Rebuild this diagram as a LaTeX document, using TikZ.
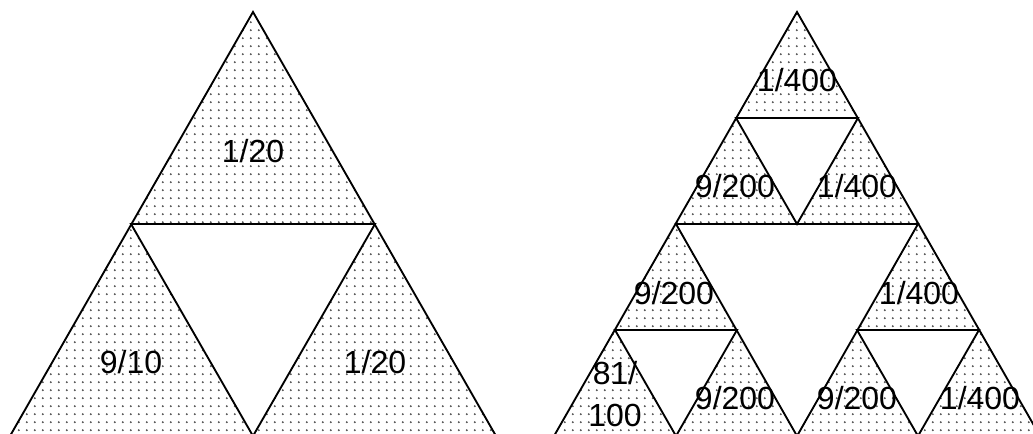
\documentclass[tikz,border=0pt]{standalone}
\usepackage{fontspec}
\setmainfont{Liberation Sans}
\usetikzlibrary{patterns.meta}
\tikzdeclarepattern{
  name=sdots, type=uncolored,
  bounding box={(0pt,0pt) and (5.85pt,5.85pt)},
  tile size={(5.85pt,5.85pt)},
  code={\fill (2.925pt,2.925pt) circle (0.85pt);}
}

\begin{document}
\begin{tikzpicture}[
  x=0.75pt, y=-0.75pt,
  tri/.style={draw, line width=1.4pt, line join=miter, pattern={sdots}, pattern color=black!70},
  hole/.style={draw, line width=1.4pt, line join=miter, fill=white},
  lbl/.style={font=\fontsize{24}{31}\selectfont, inner sep=0pt, align=center}
]
\useasboundingbox (0,0) rectangle (1033,434);
\clip (0,0) rectangle (1033,434);

% left triangle, one step
\coordinate (LA) at (253,12);
\coordinate (LB) at (10,436);
\coordinate (LC) at (496,436);
\draw[tri] (LA) -- (LB) -- (LC) -- cycle;
\draw[hole] (131,224) -- (375,224) -- (253,436) -- cycle;

\node[lbl] (ltop) at (253,151) {1/20};
\node[lbl] (lleft) at (131,362) {9/10};
\node[lbl] (lright) at (375,362) {1/20};

% right triangle, two steps
\coordinate (RA) at (797,12);
\coordinate (RB) at (554,436);
\coordinate (RC) at (1040,436);
\draw[tri] (RA) -- (RB) -- (RC) -- cycle;
\draw[hole] (676,224) -- (918,224) -- (797,436) -- cycle;
\draw[hole] (736,118) -- (858,118) -- (797,224) -- cycle;
\draw[hole] (615,330) -- (737,330) -- (676,436) -- cycle;
\draw[hole] (857,330) -- (979,330) -- (918,436) -- cycle;

\node[lbl] (rtop) at (797,80) {1/400};
\node[lbl] (rtopl) at (735,186) {9/200};
\node[lbl] (rtopr) at (857,186) {1/400};
\node[lbl] (rmidl) at (674,293) {9/200};
\node[lbl] (rmidr) at (919,293) {1/400};
\node[lbl] (rbot1) at (615,394) {81/\\100};
\node[lbl] (rbot2) at (735,398) {9/200};
\node[lbl] (rbot3) at (857,398) {9/200};
\node[lbl] (rbot4) at (980,398) {1/400};
\end{tikzpicture}
\end{document}
